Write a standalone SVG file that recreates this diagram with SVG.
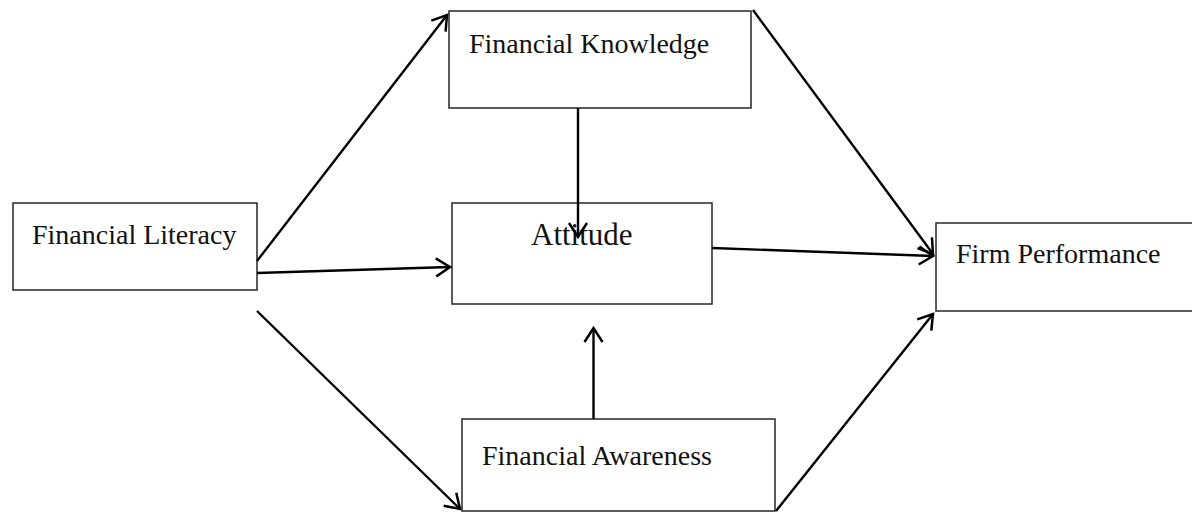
<svg xmlns="http://www.w3.org/2000/svg" width="1192" height="514" viewBox="0 0 1192 514">
  <style>
    .box { fill: #fff; stroke: #262626; stroke-width: 1.5; }
    .lbl { font-family: "Liberation Serif", "Times New Roman", serif; font-size: 28px; fill: #111; }
    .big { font-size: 31px; }
    .conn { stroke: #000; stroke-width: 2.4; fill: none; }
  </style>
  <defs>
    <marker id="ah" markerWidth="24" markerHeight="24" refX="19" refY="12" orient="auto" markerUnits="userSpaceOnUse" viewBox="0 0 24 24">
      <path d="M5,3 L19,12 L5,21" fill="none" stroke="#000" stroke-width="2.5"/>
    </marker>
  </defs>
  <rect width="1192" height="514" fill="#fff"/>
  <g id="financial-literacy">
    <rect class="box" x="13" y="203" width="244" height="87"/>
    <text class="lbl" x="32" y="244">Financial Literacy</text>
  </g>
  <g id="financial-knowledge">
    <rect class="box" x="449" y="11" width="302" height="97"/>
    <text class="lbl" x="469" y="53">Financial Knowledge</text>
  </g>
  <g id="attitude">
    <rect class="box" x="452" y="203" width="260" height="101"/>
    <text class="lbl big" x="531" y="245">Attitude</text>
  </g>
  <g id="financial-awareness">
    <rect class="box" x="462" y="419" width="313" height="92"/>
    <text class="lbl" x="482" y="465">Financial Awareness</text>
  </g>
  <g id="firm-performance">
    <rect class="box" x="936" y="223" width="262" height="88"/>
    <text class="lbl" x="956" y="263">Firm Performance</text>
  </g>
  <g id="connectors">
    <line class="conn" x1="257" y1="261" x2="447" y2="15" marker-end="url(#ah)"/>
    <line class="conn" x1="257" y1="273" x2="450" y2="267" marker-end="url(#ah)"/>
    <line class="conn" x1="257" y1="311" x2="460" y2="509" marker-end="url(#ah)"/>
    <line class="conn" x1="578" y1="108" x2="578" y2="237" marker-end="url(#ah)"/>
    <line class="conn" x1="593.5" y1="419" x2="593.5" y2="328" marker-end="url(#ah)"/>
    <line class="conn" x1="712" y1="248" x2="933" y2="256" marker-end="url(#ah)"/>
    <line class="conn" x1="753" y1="10" x2="933" y2="254" marker-end="url(#ah)"/>
    <line class="conn" x1="776" y1="511" x2="933" y2="314" marker-end="url(#ah)"/>
  </g>
</svg>
